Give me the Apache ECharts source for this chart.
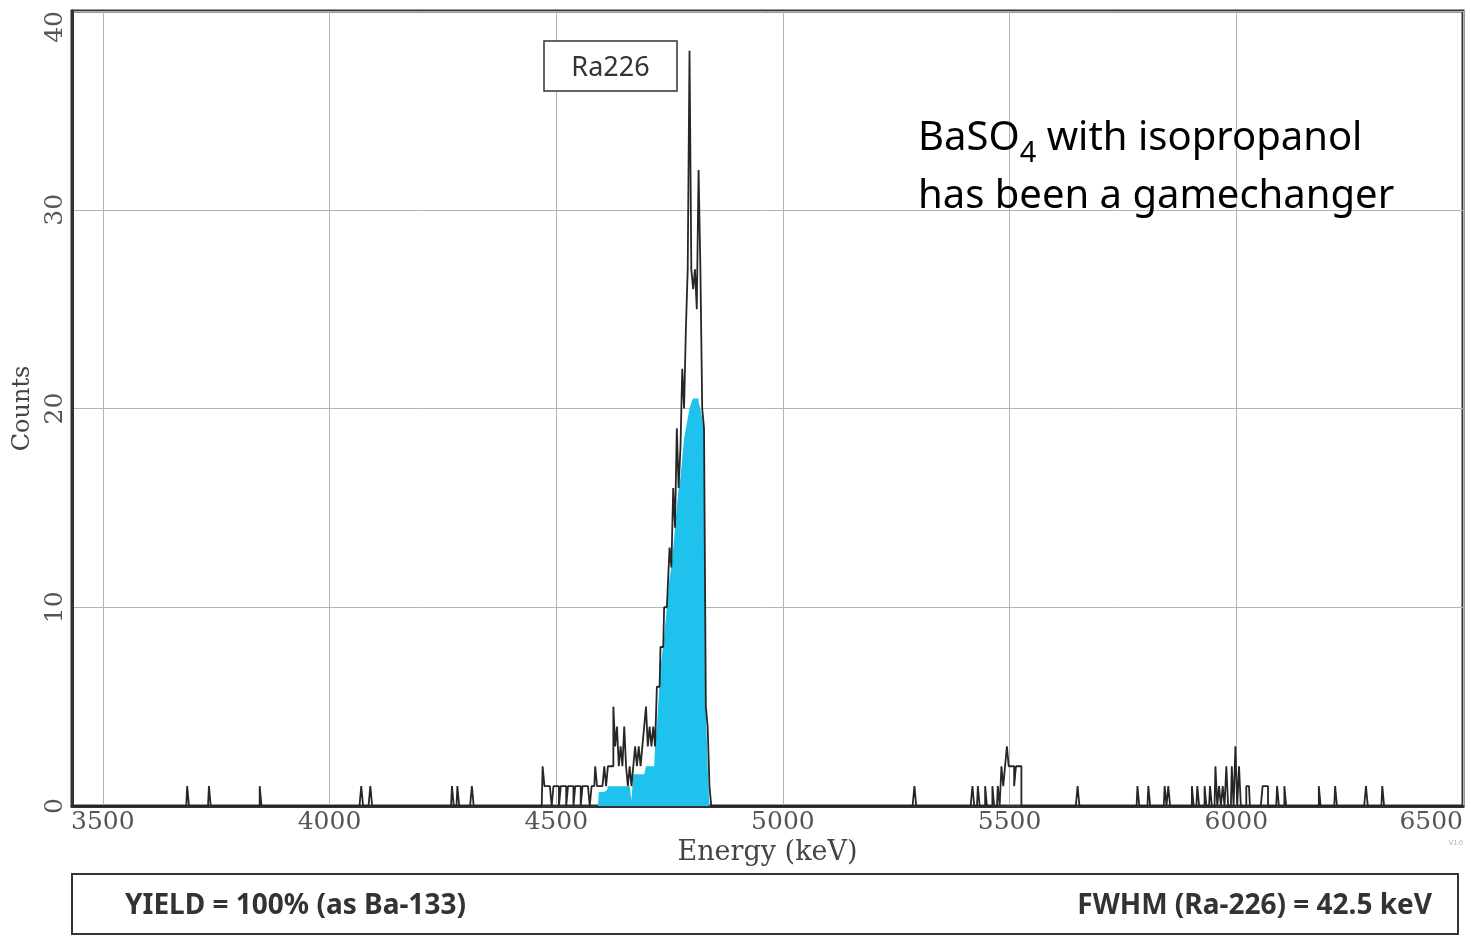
<!DOCTYPE html>
<html><head><meta charset="utf-8">
<script src="https://cdn.jsdelivr.net/npm/echarts@6/dist/echarts.min.js"></script>
<style>html,body{margin:0;padding:0;background:#fff}#c{width:1471px;height:937px}</style>
</head><body><div id="c"></div>
<script>
// ---- data ----
const binWidth = 4;               // keV per channel
const energyMin = 3432;
const energyMax = 6500;
const xTickValues = [3500, 4000, 4500, 5000, 5500, 6000, 6500];
const yTickValues = [0, 10, 20, 30, 40];

// Ra-226 peak region, channel counts starting at peakStart (keV)
const peakStart = 4464;
const peakCounts = [
  0,0,2,1,1,1,1,0,1,1, 1,0,1,1,1,0,1,1,1,0,
  1,1,1,0,1,1,1,1,0,1, 1,2,1,1,1,1,2,1,2,2,
  2,5,3,4,2,3,2,4,2,1, 2,1,2,3,2,3,2,3,4,5,
  3,4,3,4,3,6,6,8,8,10, 10,11,13,12,16,14,19,16,18,22,
  20,24,27,38,27,26,27,25,32,27, 20,19,5,4,1,0
];

// Highlighted (cyan) peak envelope, channel counts starting at fillStart (keV)
const fillStart = 4596;
const fillCounts = [
  0.7,0.7,0.7,0.7,0.8,1,1,1,1,1, 1,1,1,1,1,1,1,1,0.3,1.6,
  1.6,1.6,1.6,1.6,1.6,1.6,2,2,2,2, 2,3,4,5.5,7,7.7,8.5,9.5,10.5,11.5,
  12,13,14,15,16,16.5,17.5,18.5,19,19.5, 20,20.3,20.5,20.5,20.5,20.3,20,19.5,19,5,
  2,0
];

// Isolated background counts outside the peak
const spikeEnergies = [
  3688,3736,3848,4072,4092,4272,4284,4316,
  5292,
  5420,5432,5448,5464,5476,5484,5488,5492,5496,5500,5504,5508,5512,5516,5520,5524,
  5652,
  5784,5808,5844,5852,
  5904,5916,5932,5944,5956,5964,5972,5980,5992,6000,6008,6024,6028,6060,6064,6068,6092,6108,
  6184,6220,6288,6324
];
const spikeCounts = [
  1,1,1,1,1,1,1,1,
  1,
  1,1,1,1,1,2,1,2,3,2,2,2,1,2,2,2,
  1,
  1,1,1,1,
  1,1,1,1,2,1,1,2,2,3,2,1,1,1,1,1,1,1,
  1,1,1,1
];

// ---- build tables ----
const traceEnergies = [];
const traceCounts = [];
for (let e = energyMin; e <= energyMax; e += binWidth) { traceEnergies.push(e); traceCounts.push(0); }
function setCount(e, c) {
  const i = Math.round((e - energyMin) / binWidth);
  if (i >= 0 && i < traceCounts.length) traceCounts[i] = c;
}
peakCounts.forEach((c, i) => setCount(peakStart + i * binWidth, c));
spikeEnergies.forEach((e, i) => setCount(e, spikeCounts[i]));
const traceData = traceEnergies.map((e, i) => [e, traceCounts[i]]);

const fillData = [[fillStart - binWidth, 0]].concat(fillCounts.map((c, i) => [fillStart + i * binWidth, c]));

const chart = echarts.init(document.getElementById('c'), null, {renderer: 'canvas'});
const serif = 'DejaVu Serif';
chart.setOption({
  animation: false,
  backgroundColor: '#ffffff',
  grid: {left: 72, right: 8, top: 11, bottom: 131, show: true, borderColor: '#333', borderWidth: 3},
  xAxis: {
    type: 'value', min: energyMin, max: energyMax,
    name: 'Energy (keV)', nameLocation: 'middle', nameGap: 31,
    nameTextStyle: {fontFamily: serif, fontSize: 27, color: '#444'},
    axisLine: {show: true, lineStyle: {color: '#333', width: 3}},
    axisTick: {show: false, customValues: xTickValues},
    axisLabel: {customValues: xTickValues, formatter: v => String(v), fontFamily: serif, fontSize: 25, color: '#555', margin: 4, alignMaxLabel: 'right'},
    splitLine: {show: true, lineStyle: {color: '#b4b4b4', width: 1}}
  },
  yAxis: {
    type: 'value', min: 0, max: 40, interval: 10,
    name: 'Counts', nameLocation: 'middle', nameGap: 28,
    nameTextStyle: {fontFamily: serif, fontSize: 24, color: '#444'},
    axisLine: {show: true, lineStyle: {color: '#333', width: 3}},
    axisTick: {show: false},
    axisLabel: {rotate: 90, formatter: v => String(v), fontFamily: serif, fontSize: 25, color: '#555', margin: 4, alignMaxLabel: 'right'},
    splitLine: {show: true, lineStyle: {color: '#b4b4b4', width: 1}}
  },
  series: [
    {
      type: 'line', name: 'fill', step: 'middle', data: fillData, symbol: 'none', z: 2,
      lineStyle: {width: 0}, areaStyle: {color: '#1fc2ec', opacity: 1}
    },
    {
      type: 'line', name: 'spectrum', step: 'middle', data: traceData, symbol: 'none', z: 3,
      lineStyle: {color: '#262626', width: 1.8}
    }
  ],
  graphic: [
    {type: 'rect', shape: {x: 544, y: 41, width: 133, height: 50}, style: {fill: '#fff', stroke: '#333', lineWidth: 1.5}, z: 10},
    {type: 'text', x: 610.5, y: 68, style: {text: 'Ra226', font: '27px "Noto Sans"', fill: '#333', align: 'center', verticalAlign: 'middle'}, z: 11},
    {type: 'text', x: 918, y: 110, z: 11, style: {
      text: '{a|BaSO}{s|4}{a| with isopropanol}\n{a|has been a gamechanger}',
      verticalAlign: 'top', align: 'left',
      rich: {
        a: {fontFamily: 'Noto Sans', fontSize: 40, lineHeight: 58, color: '#111'},
        s: {fontFamily: 'Noto Sans', fontSize: 29, lineHeight: 30, verticalAlign: 'bottom', color: '#111'}
      }
    }},
    {type: 'text', x: 1463, y: 843, style: {text: 'V1.0', font: '7px sans-serif', fill: '#aaa', align: 'right', verticalAlign: 'middle'}},
    {type: 'rect', shape: {x: 72, y: 874, width: 1386, height: 60}, style: {fill: 'none', stroke: '#333', lineWidth: 2}},
    {type: 'text', x: 125, y: 906, style: {text: 'YIELD = 100% (as Ba-133)', font: 'bold 28px "Noto Sans"', fill: '#333', align: 'left', verticalAlign: 'middle'}},
    {type: 'text', x: 1432, y: 906, style: {text: 'FWHM (Ra-226) = 42.5 keV', font: 'bold 28px "Noto Sans"', fill: '#333', align: 'right', verticalAlign: 'middle'}}
  ]
});
</script>
</body></html>
